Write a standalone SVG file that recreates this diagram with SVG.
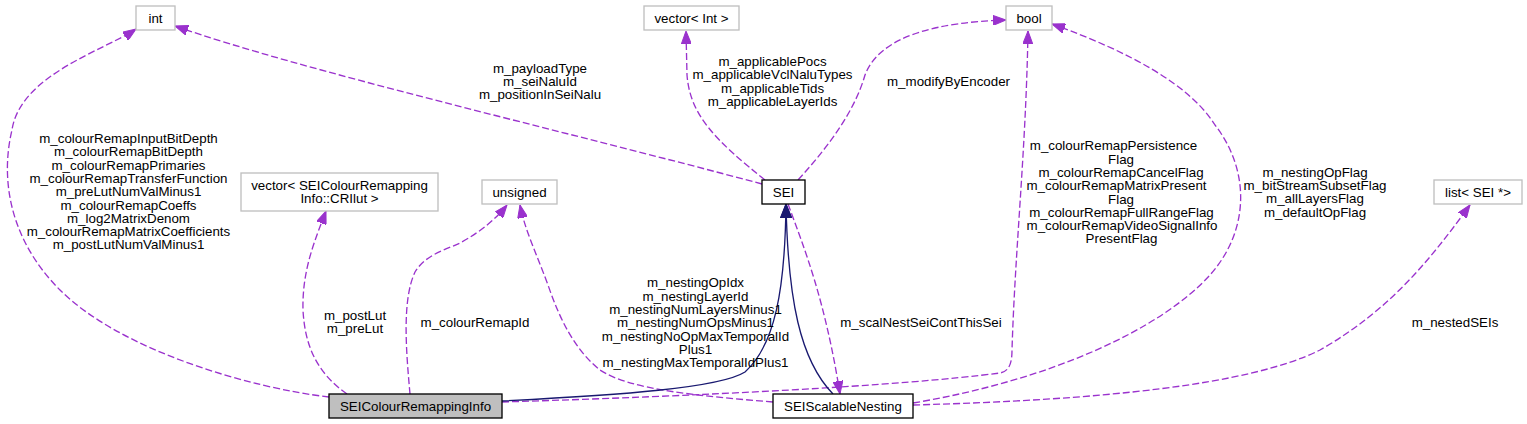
<svg xmlns="http://www.w3.org/2000/svg" width="1527" height="424" viewBox="0 0 1527 424">
<style>
text{font-family:"Liberation Sans",Arial,Helvetica,sans-serif;font-size:13.33px;fill:#000;text-anchor:middle}
.ext{fill:#fff;stroke:#bfbfbf;stroke-width:1.33}
.cls{fill:#fff;stroke:#000;stroke-width:1.33}
.cur{fill:#bfbfbf;stroke:#000;stroke-width:1.33}
.use{fill:none;stroke:#9a32cd;stroke-width:1.33;stroke-dasharray:7,3;marker-end:url(#ap)}
.inh{fill:none;stroke:#191970;stroke-width:1.33;marker-end:url(#an)}
</style>
<defs>
<marker id="ap" viewBox="0 0 13 10" refX="13" refY="5" markerWidth="13" markerHeight="10" markerUnits="userSpaceOnUse" orient="auto"><path d="M0,0L13,5L0,10z" fill="#9a32cd" stroke="#9a32cd" stroke-width="1"/></marker>
<marker id="an" viewBox="0 0 14 12" refX="14" refY="6" markerWidth="14" markerHeight="12" markerUnits="userSpaceOnUse" orient="auto"><path d="M0,0.5L14,6L0,11.5z" fill="#191970" stroke="#191970" stroke-width="1"/></marker>
</defs>
<rect width="1527" height="424" fill="#fff"/>
<g id="connectors">
<path class="use" d="M329,397 C250,388 120,350 60,290 C10,240 0,180 12,130 C20,75 105,50 136,29"/>
<path class="use" d="M762,184 C560,130 300,70 175,26"/>
<path class="use" d="M765,180 C715,140 690,115 687,75 L686,31"/>
<path class="use" d="M798,180 C830,145 855,110 865,75 C880,35 940,22 1006,20"/>
<path class="use" d="M502,402 C700,396 900,386 1000,373 C1010,371 1012,362 1012,350 C1015,250 1026,150 1028,31"/>
<path class="use" d="M913,403 C1050,380 1160,330 1210,275 C1250,230 1250,170 1215,125 C1190,85 1130,52 1052,24"/>
<path class="use" d="M913,405 C1100,400 1250,385 1320,350 C1390,310 1430,260 1470,205"/>
<path class="use" d="M347,394 C320,375 305,350 303,310 C302,270 315,240 326,211"/>
<path class="use" d="M410,394 C406,350 402,300 415,272 C425,255 445,250 460,243 C480,232 495,220 507,205"/>
<path class="use" d="M773,402 C700,396 630,390 600,370 C575,350 560,320 548,285 C535,250 525,230 520,205"/>
<path class="use" d="M788,204 C805,250 825,300 840,394"/>
<path class="inh" d="M502,401 C620,395 720,388 745,372 C775,345 785,290 786,204"/>
<path class="inh" d="M833,394 C800,360 788,300 786,204"/>
<text x="128.5" y="143">m_colourRemapInputBitDepth</text>
<text x="128.5" y="156.3">m_colourRemapBitDepth</text>
<text x="128.5" y="169.6">m_colourRemapPrimaries</text>
<text x="128.5" y="182.9">m_colourRemapTransferFunction</text>
<text x="128.5" y="196.2">m_preLutNumValMinus1</text>
<text x="128.5" y="209.5">m_colourRemapCoeffs</text>
<text x="128.5" y="222.8">m_log2MatrixDenom</text>
<text x="128.5" y="236.1">m_colourRemapMatrixCoefficients</text>
<text x="128.5" y="249.4">m_postLutNumValMinus1</text>
<text x="540" y="72.5">m_payloadType</text>
<text x="540" y="85.8">m_seiNaluId</text>
<text x="540" y="99.1">m_positionInSeiNalu</text>
<text x="772.5" y="66">m_applicablePocs</text>
<text x="772.5" y="79.3">m_applicableVclNaluTypes</text>
<text x="772.5" y="92.6">m_applicableTids</text>
<text x="772.5" y="105.9">m_applicableLayerIds</text>
<text x="948.5" y="86">m_modifyByEncoder</text>
<text x="1113.5" y="150.3">m_colourRemapPersistence</text>
<text x="1121" y="163.6">Flag</text>
<text x="1121" y="176.9">m_colourRemapCancelFlag</text>
<text x="1116.5" y="190.2">m_colourRemapMatrixPresent</text>
<text x="1121" y="203.5">Flag</text>
<text x="1121.5" y="216.8">m_colourRemapFullRangeFlag</text>
<text x="1122" y="230.1">m_colourRemapVideoSignalInfo</text>
<text x="1121.5" y="243.4">PresentFlag</text>
<text x="1315" y="176.7">m_nestingOpFlag</text>
<text x="1315" y="190">m_bitStreamSubsetFlag</text>
<text x="1315" y="203.3">m_allLayersFlag</text>
<text x="1315" y="216.6">m_defaultOpFlag</text>
<text x="1455" y="327.3">m_nestedSEIs</text>
<text x="355" y="320">m_postLut</text>
<text x="355" y="333.3">m_preLut</text>
<text x="475" y="327.3">m_colourRemapId</text>
<text x="695.5" y="287.3">m_nestingOpIdx</text>
<text x="695.5" y="300.6">m_nestingLayerId</text>
<text x="695.5" y="313.9">m_nestingNumLayersMinus1</text>
<text x="695.5" y="327.2">m_nestingNumOpsMinus1</text>
<text x="695.5" y="340.5">m_nestingNoOpMaxTemporalId</text>
<text x="695.5" y="353.8">Plus1</text>
<text x="695.5" y="367.1">m_nestingMaxTemporalIdPlus1</text>
<text x="921" y="327.3">m_scalNestSeiContThisSei</text>
</g>
<g id="node-int"><rect class="ext" x="136" y="6" width="39" height="24"/><text x="155.5" y="22.5">int</text></g>
<g id="node-vector-int"><rect class="ext" x="644" y="6" width="95" height="24"/><text x="691.5" y="22.5">vector&lt; Int &gt;</text></g>
<g id="node-bool"><rect class="ext" x="1006" y="6" width="46" height="24"/><text x="1029" y="22.5">bool</text></g>
<g id="node-vector-crilut"><rect class="ext" x="241" y="173" width="197" height="38"/><text x="339.5" y="189.5">vector&lt; SEIColourRemapping</text><text x="339.5" y="203">Info::CRIlut &gt;</text></g>
<g id="node-unsigned"><rect class="ext" x="482" y="180" width="75" height="24"/><text x="519.5" y="196.5">unsigned</text></g>
<g id="node-SEI"><rect class="cls" x="762" y="180" width="43" height="24"/><text x="783.5" y="196.5">SEI</text></g>
<g id="node-list-sei"><rect class="ext" x="1434" y="180" width="88" height="24"/><text x="1478" y="196.5">list&lt; SEI *&gt;</text></g>
<g id="node-SEIColourRemappingInfo"><rect class="cur" x="329" y="394" width="173" height="24"/><text x="415.5" y="410.5">SEIColourRemappingInfo</text></g>
<g id="node-SEIScalableNesting"><rect class="cls" x="773" y="394" width="140" height="24"/><text x="843" y="410.5">SEIScalableNesting</text></g>
</svg>
